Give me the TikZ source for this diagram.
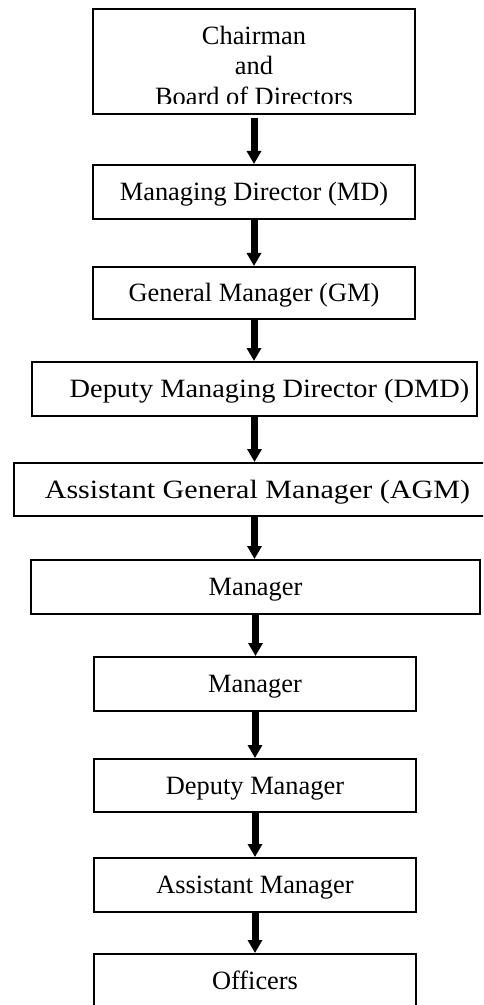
\documentclass[tikz,border=0pt]{standalone}
\usepackage{fontspec}
\setmainfont{Liberation Serif}
\usetikzlibrary{arrows.meta}
\begin{document}
\begin{tikzpicture}[x=0.5pt,y=-0.5pt,
  box/.style={draw, line width=1pt, inner sep=0pt, text height=8.75pt, text depth=0pt,
              font=\fontsize{13.2}{15.25}\selectfont},
  txt/.style={inner sep=0pt, anchor=base, font=\fontsize{13.2}{15.25}\selectfont},
  arr/.style={line width=3.5pt, -{Triangle[width=7pt,length=6.5pt]}}]
\useasboundingbox (0,0) rectangle (483,1005);
\clip (0,0) rectangle (483,1005);

\node[box, minimum width=161pt, minimum height=52.5pt, line width=1.2pt] (chair) at (254,61.5) {};
\begin{scope}
  \clip (93,9) rectangle (415,104);
  \node[txt] (chairA) at (254,44.5) {Chairman};
  \node[txt] (chairB) at (254,75) {and};
  \node[txt] (chairC) at (254,105.5) {Board of Directors};
\end{scope}

\node[box, minimum width=161pt,   minimum height=27pt]   (md)   at (254,192)   {Managing Director (MD)};
\node[box, minimum width=161pt,   minimum height=26pt]   (gm)   at (254,293)   {General Manager (GM)};
\node[box, minimum width=222.5pt, minimum height=27pt]   (dmd)  at (254.5,389) {\hspace*{15pt}\scalebox{1.075}[1]{Deputy Managing Director (DMD)}};
\node[box, minimum width=240.5pt, minimum height=26.5pt] (agm)  at (254.5,489.5) {\hspace*{3pt}\scalebox{1.14}[1]{Assistant General Manager (AGM)}};
\node[box, minimum width=224.5pt, minimum height=27pt]   (mgrA) at (255.5,587) {Manager};
\node[box, minimum width=161pt,   minimum height=27pt]   (mgrB) at (255,684)   {Manager};
\node[box, minimum width=161pt,   minimum height=26.5pt] (dep)  at (255,785.5) {Deputy Manager};
\node[box, minimum width=161pt,   minimum height=27pt]   (asst) at (255,885)   {Assistant Manager};
\node[box, minimum width=161pt,   minimum height=27pt]   (off)  at (255,981)   {Officers};

\draw[arr, shorten <=1.5pt] (chair.south) -- (chair.south |- md.north);
\draw[arr] (md.south)    -- (md.south |- gm.north);
\draw[arr] (gm.south)    -- (gm.south |- dmd.north);
\draw[arr] (dmd.south)   -- (dmd.south |- agm.north);
\draw[arr] (agm.south)   -- (agm.south |- mgrA.north);
\draw[arr] (mgrA.south)  -- (mgrA.south |- mgrB.north);
\draw[arr] (mgrB.south)  -- (mgrB.south |- dep.north);
\draw[arr] (dep.south)   -- (dep.south |- asst.north);
\draw[arr] (asst.south)  -- (asst.south |- off.north);
\end{tikzpicture}
\end{document}
